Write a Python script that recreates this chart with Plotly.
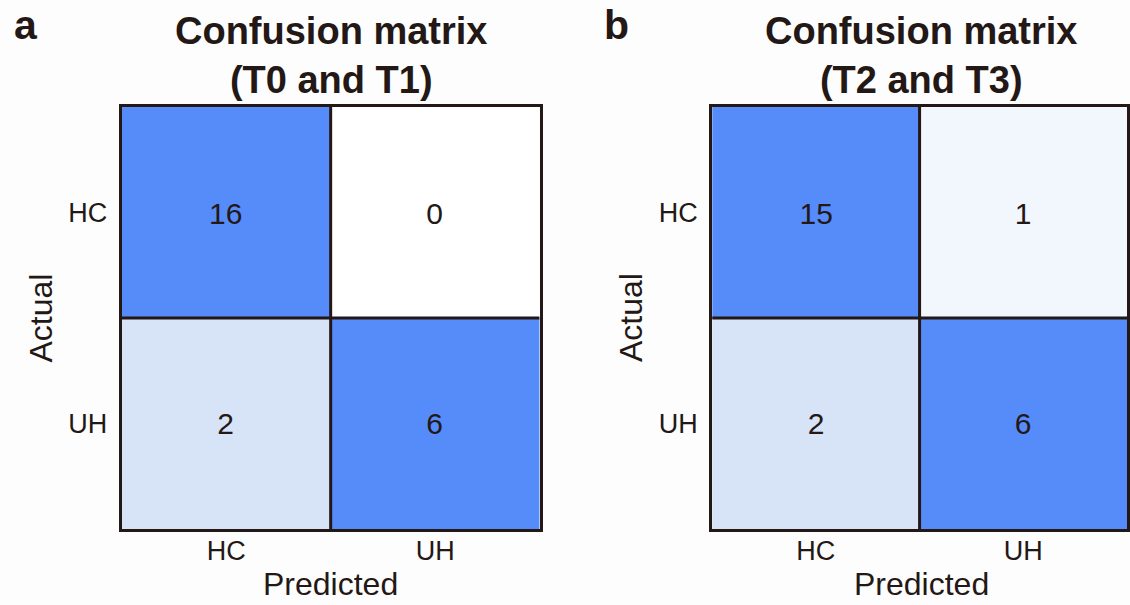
import plotly.graph_objects as go

# Class labels shared by both matrices
classes = ["HC", "UH"]

# Counts: rows = actual class, columns = predicted class
cm_t0_t1 = [[16, 0],
            [2, 6]]
cm_t2_t3 = [[15, 1],
            [2, 6]]

panel_letters = ["a", "b"]
panel_titles = ["Confusion matrix<br>(T0 and T1)", "Confusion matrix<br>(T2 and T3)"]

FONT = "Liberation Sans, Arial, Helvetica, sans-serif"
INK = "#231815"
BG = "#FDFDFD"

# Colour ramp over the counts (0..16)
zmax = 16
colorscale = [
    [0.0, "#FFFFFF"],
    [1 / zmax, "#F2F6FD"],
    [2 / zmax, "#D7E3F7"],
    [6 / zmax, "#568BFA"],
    [1.0, "#568BFA"],
]

fig = go.Figure()

x_domains = [[0.108, 0.4788], [0.6319, 1.0]]
y_domain = [0.1256, 0.8231]
matrices = [cm_t0_t1, cm_t2_t3]
idx = list(range(len(classes)))
cell_frac = (x_domains[0][1] - x_domains[0][0]) / len(classes)

for k, (cm, dom) in enumerate(zip(matrices, x_domains)):
    sfx = "" if k == 0 else str(k + 1)
    fig.add_trace(go.Heatmap(
        z=cm, x=idx, y=idx,
        xaxis="x" + sfx, yaxis="y" + sfx,
        colorscale=colorscale, zmin=0, zmax=zmax, showscale=False,
        texttemplate="%{z}",
        textfont=dict(family=FONT, size=30, color=INK),
        hoverinfo="skip",
    ))
    axis_common = dict(
        tickvals=idx, ticktext=classes, showgrid=False, zeroline=False,
        showline=True, mirror=True, linecolor=INK, linewidth=3,
        ticks="", tickfont=dict(family=FONT, size=27, color=INK),
        fixedrange=True,
    )
    fig.update_layout(**{
        "xaxis" + sfx: dict(domain=dom, range=[-0.5, len(classes) - 0.5],
                            anchor="y" + sfx, ticklabelstandoff=-4, **axis_common),
        "yaxis" + sfx: dict(domain=y_domain, range=[len(classes) - 0.5, -0.5],
                            anchor="x" + sfx, ticklabelstandoff=6, **axis_common),
    })
    # Inner cell dividers
    for b in range(1, len(classes)):
        pos = b - 0.5
        fig.add_shape(type="line", xref="x" + sfx, yref="y" + sfx,
                      x0=pos, x1=pos, y0=-0.5, y1=len(classes) - 0.5,
                      line=dict(color=INK, width=3), layer="above")
        fig.add_shape(type="line", xref="x" + sfx, yref="y" + sfx,
                      x0=-0.5, x1=len(classes) - 0.5, y0=pos, y1=pos,
                      line=dict(color=INK, width=3), layer="above")

    # Horizontal centre of the two-cell grid
    cx = dom[0] + cell_frac * len(classes) / 2
    # Panel title
    fig.add_annotation(xref="paper", yref="paper", x=cx, y=0.9075,
                       text="<b>" + panel_titles[k] + "</b>", showarrow=False,
                       font=dict(family=FONT, size=38, color=INK),
                       xanchor="center", yanchor="middle")
    # Panel letter
    fig.add_annotation(xref="paper", yref="paper", x=dom[0] - 0.085, y=0.958,
                       text="<b>" + panel_letters[k] + "</b>", showarrow=False,
                       font=dict(family=FONT, size=41, color=INK),
                       xanchor="center", yanchor="middle")
    # Axis titles
    fig.add_annotation(xref="paper", yref="paper", x=cx, y=1 - 584 / 605,
                       text="Predicted", showarrow=False,
                       font=dict(family=FONT, size=32, color=INK),
                       xanchor="center", yanchor="middle")
    fig.add_annotation(xref="paper", yref="paper", x=dom[0] - 0.072,
                       y=(y_domain[0] + y_domain[1]) / 2,
                       text="Actual", showarrow=False, textangle=-90,
                       font=dict(family=FONT, size=32, color=INK),
                       xanchor="center", yanchor="middle")

fig.update_layout(
    width=1130, height=605,
    margin=dict(l=0, r=0, t=0, b=0),
    paper_bgcolor=BG, plot_bgcolor=BG,
    showlegend=False,
)

fig.write_html("out.html", config={"displayModeBar": False})
